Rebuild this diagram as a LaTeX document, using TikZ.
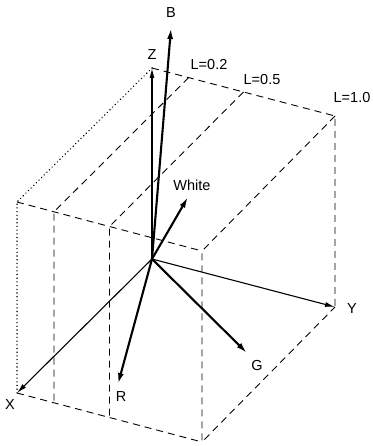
\documentclass[tikz,border=0pt]{standalone}
\usepackage{fontspec}
\setmainfont{Liberation Sans}
\usetikzlibrary{arrows.meta,calc}
\begin{document}
\begin{tikzpicture}[x=1pt,y=-1pt,
  edge/.style={dash pattern=on 7pt off 5pt, line width=0.9pt},
  hid/.style={line width=1.5pt, dash pattern=on 0.1pt off 3.6pt, line cap=round},
  thinax/.style={line width=1.1pt,-{Latex[length=10pt,width=5pt]}},
  thickax/.style={line width=2.1pt,-{Latex[length=11pt,width=6pt]}},
  lab/.style={font=\fontsize{14.5}{14.5}\selectfont, inner sep=0pt}]
\useasboundingbox (0,0) rectangle (372,446);
\coordinate (O) at (152,259);
\coordinate (Xt) at (17,393);
\coordinate (Yt) at (335,307);
\coordinate (Zt) at (152,68);
\coordinate (XZ) at (17,202);
\coordinate (XY) at (202,442);
\coordinate (XYZ) at (202,251);
\coordinate (YZ) at (335,116);
\coordinate (A2) at ($(Zt)!0.2!(YZ)$);
\coordinate (A2f) at ($(XZ)!0.2!(XYZ)$);
\coordinate (A2b) at ($(Xt)!0.2!(XY)$);
\coordinate (A5) at ($(Zt)!0.5!(YZ)$);
\coordinate (A5f) at ($(XZ)!0.5!(XYZ)$);
\coordinate (A5b) at ($(Xt)!0.5!(XY)$);
\coordinate (Bt) at (171,28);
\coordinate (Wt) at (188,197);
\coordinate (Gt) at (247,353);
\coordinate (Rt) at (118,384);
% box edges
\draw[edge] (Zt) -- (YZ) -- (Yt);
\draw[edge] (YZ) -- (XYZ) -- (XY) -- (Yt);
\draw[edge] (XZ) -- (XYZ);
\draw[edge] (Xt) -- (XY);
\draw[edge] (A2) -- (A2f) -- (A2b);
\draw[edge] (A5) -- (A5f) -- (A5b);
\draw[hid] (Zt) -- (XZ) -- (Xt);
% axes
\draw[thinax] (O) -- (Zt);
\draw[thinax] (O) -- (Xt);
\draw[thinax] (O) -- (Yt);
\draw[thickax] (O) -- (Bt);
\draw[thickax] (O) -- (Wt);
\draw[thickax] (O) -- (Gt);
\draw[thickax] (O) -- (Rt);
% labels
\node[lab] (lz) at (152,55) {Z};
\node[lab] (lb) at (171,13) {B};
\node[lab] (lw) at (192,185) {White};
\node[lab] (l2) at (209,65) {L=0.2};
\node[lab] (l5) at (262,80) {L=0.5};
\node[lab] (l1) at (352,98) {L=1.0};
\node[lab] (ly) at (352,309) {Y};
\node[lab] (lg) at (257,366) {G};
\node[lab] (lr) at (121,397) {R};
\node[lab] (lx) at (10,405) {X};
\end{tikzpicture}
\end{document}
